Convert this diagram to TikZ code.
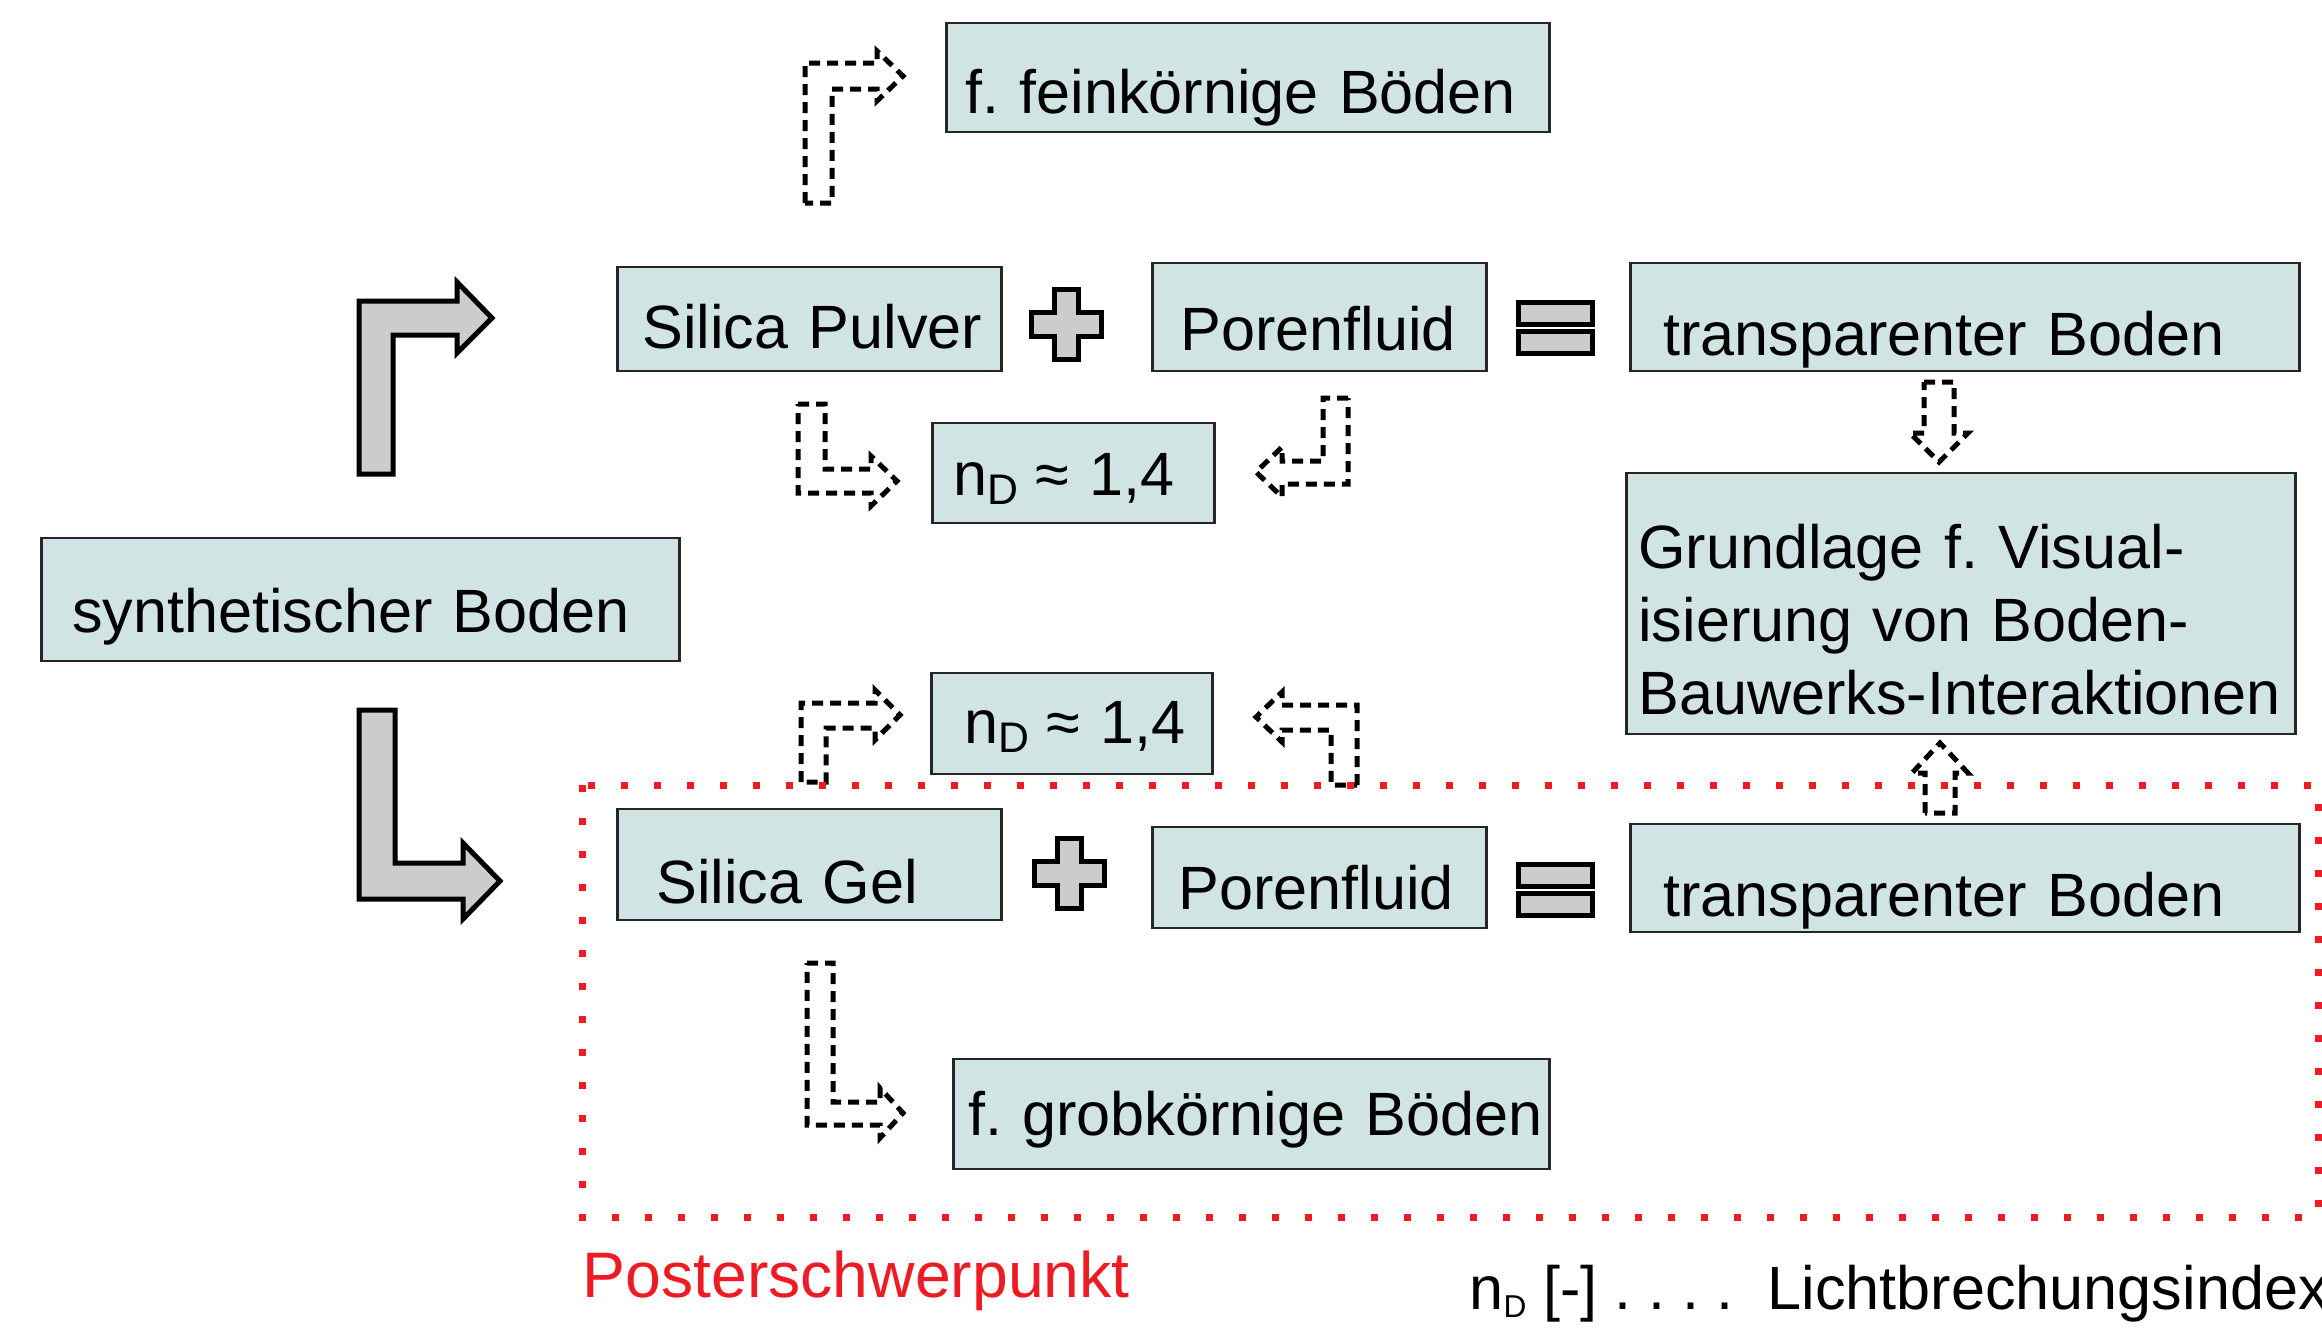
\documentclass[tikz,border=0pt]{standalone}
\usepackage{fontspec}
\setmainfont{Liberation Sans}
\definecolor{boxteal}{RGB}{208,229,227}
\definecolor{arrowgray}{RGB}{204,204,204}
\definecolor{focusred}{RGB}{237,28,36}

\begin{document}
\begin{tikzpicture}[x=0.1mm,y=-0.1mm,font=\fontsize{17.4pt}{20.8pt}\selectfont\frenchspacing,
box/.style={draw=black!85,line width=0.25mm,fill=boxteal,anchor=south west,inner ysep=0pt,align=left},
bigarrow/.style={draw=black,line width=0.5mm,fill=arrowgray},
dasharrow/.style={draw=black,line width=0.5mm,dash pattern=on 1.1mm off 0.7mm},
mathsign/.style={draw=black,line width=0.5mm,fill=arrowgray}]
\useasboundingbox (0,0) rectangle (2322,1329);
% boxes, placed by their lower left corner
\node[box,text width=56.5mm,inner xsep=1.9mm,text height=9.1mm,text depth=1.8mm] (fein) at (945,133) {\mbox{f. feinkörnige Böden}};
\node[box,text width=33.4mm,inner xsep=2.5mm,text height=8.2mm,text depth=2.2mm] (pulver) at (616,372) {\mbox{Silica Pulver}};
\node[box,text width=27.8mm,inner xsep=2.8mm,text height=8.8mm,text depth=2.0mm] (fluidA) at (1151,372) {\mbox{Porenfluid}};
\node[box,text width=60.3mm,inner xsep=3.3mm,text height=9.3mm,text depth=1.5mm] (transA) at (1629,372) {\mbox{transparenter Boden}};
\node[box,text width=24.0mm,inner xsep=2.1mm,text height=7.3mm,text depth=2.7mm] (ndA) at (931,524) {\mbox{n\textsubscript{D}\kern-0.08em{} ≈ 1,4}};
\node[box,text width=64.5mm,inner xsep=1.2mm,text height=9.6mm,text depth=16.5mm] (basis) at (1625,735)
{\mbox{Grundlage f. Visual-}\\\mbox{isierung von Boden-}\\\mbox{Bauwerks-Interaktionen}};
\node[box,text width=57.6mm,inner xsep=3.1mm,text height=9.5mm,text depth=2.8mm] (synth) at (40,662) {\mbox{synthetischer Boden}};
\node[box,text width=21.5mm,inner xsep=3.3mm,text height=7.1mm,text depth=3.0mm] (ndB) at (930,775) {\mbox{n\textsubscript{D}\kern-0.08em{} ≈ 1,4}};
\node[box,text width=30.6mm,inner xsep=3.9mm,text height=9.5mm,text depth=1.6mm] (gel) at (616,921) {\mbox{Silica Gel}};
\node[box,text width=28.2mm,inner xsep=2.6mm,text height=8.3mm,text depth=1.8mm] (fluidB) at (1151,929) {\mbox{Porenfluid}};
\node[box,text width=60.3mm,inner xsep=3.3mm,text height=9.3mm,text depth=1.5mm] (transB) at (1629,933) {\mbox{transparenter Boden}};
\node[box,text width=56.6mm,inner xsep=1.5mm,text height=7.7mm,text depth=3.3mm] (grob) at (952,1170) {\mbox{f. grobkörnige Böden}};
% plus and equal signs
\foreach \cx/\cy in {1066/324,1069/873}
  \draw[mathsign] (\cx-12,\cy-35) -- (\cx+12,\cy-35) -- (\cx+12,\cy-12) -- (\cx+35,\cy-12)
    -- (\cx+35,\cy+12) -- (\cx+12,\cy+12) -- (\cx+12,\cy+35) -- (\cx-12,\cy+35)
    -- (\cx-12,\cy+12) -- (\cx-35,\cy+12) -- (\cx-35,\cy-12) -- (\cx-12,\cy-12) -- cycle;
\foreach \ty in {302,864} {
  \draw[mathsign] (1518,\ty) rectangle (1592,\ty+22);
  \draw[mathsign] (1518,\ty+29) rectangle (1592,\ty+51);
}
% big grey bent arrows
\draw[bigarrow] (359,474) -- (359,301) -- (457,301) -- (457,282) -- (492,318) -- (457,353)
  -- (457,335) -- (393,335) -- (393,474) -- cycle;
\draw[bigarrow] (359,710) -- (395,710) -- (395,863) -- (463,863) -- (463,843) -- (500,881)
  -- (463,919) -- (463,899) -- (359,899) -- cycle;
% dashed block arrows
\draw[dasharrow] (805,203) -- (805,63) -- (877,63) -- (877,51) -- (903,76) -- (877,101)
  -- (877,89) -- (832,89) -- (832,203) -- cycle;
\draw[dasharrow] (798,404) -- (825,404) -- (825,469) -- (871,469) -- (871,456) -- (897,481)
  -- (871,506) -- (871,493) -- (798,493) -- cycle;
\draw[dasharrow] (1348,398) -- (1323,398) -- (1323,461) -- (1282,461) -- (1282,447) -- (1256,472)
  -- (1282,497) -- (1282,484) -- (1348,484) -- cycle;
\draw[dasharrow] (801,782) -- (801,703) -- (875,703) -- (875,690) -- (900,715) -- (875,740)
  -- (875,728) -- (826,728) -- (826,782) -- cycle;
\draw[dasharrow] (1357,785) -- (1357,705) -- (1282,705) -- (1282,692) -- (1256,717) -- (1282,742)
  -- (1282,730) -- (1331,730) -- (1331,785) -- cycle;
\draw[dasharrow] (1924,382) -- (1954,382) -- (1954,433) -- (1968,433) -- (1939,462) -- (1910,433)
  -- (1924,433) -- cycle;
\draw[dasharrow] (1925,813) -- (1925,773) -- (1912,773) -- (1940,743) -- (1968,773) -- (1955,773)
  -- (1955,813) -- cycle;
\draw[dasharrow] (807,963) -- (833,963) -- (833,1102) -- (880,1102) -- (880,1088) -- (903,1113)
  -- (880,1138) -- (880,1125) -- (807,1125) -- cycle;
% focus frame
\draw[focusred,line width=0.7mm,dash pattern=on 0.7mm off 2.6mm] (582,785) rectangle (2318,1217);
\node[focusred,anchor=base west,inner sep=0pt,font=\fontsize{18.3pt}{22pt}\selectfont] (focus) at (582,1297) {Posterschwerpunkt};
\node[anchor=base west,inner sep=0pt] (legend) at (1469,1309)
{\makebox[29.8mm][l]{n\raisebox{-0.25ex}{\fontsize{9pt}{9pt}\selectfont D} [-] . . . .}Lichtbrechungsindex};
\end{tikzpicture}
\end{document}
